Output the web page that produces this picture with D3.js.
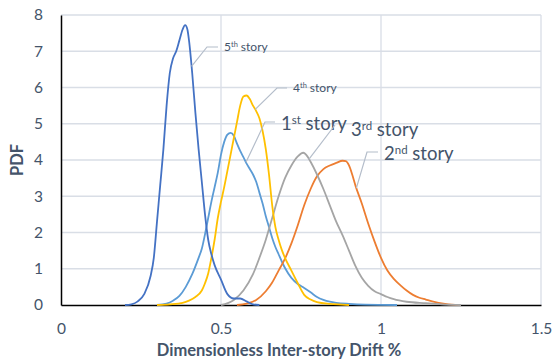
<!DOCTYPE html>
<html>
<head>
<meta charset="utf-8">
<script src="https://cdn.jsdelivr.net/npm/d3@7"></script>
<style>
  html, body { margin: 0; padding: 0; background: #fff; }
  svg { display: block; font-family: Lato, "Open Sans", sans-serif; }
</style>
</head>
<body>
<svg id="chart" width="552" height="359"></svg>
<script>
// Probability density of inter-story drift, one curve per story: [drift %, PDF]
const story1 = [[0.30,0],[0.33,0.04],[0.35,0.12],[0.37,0.25],[0.39,0.5],[0.41,0.85],[0.43,1.3],[0.44,1.55],[0.45,1.95],[0.46,2.4],[0.47,2.85],[0.48,3.25],[0.49,3.65],[0.50,4.15],[0.51,4.5],[0.52,4.7],[0.53,4.75],[0.54,4.67],[0.55,4.45],[0.56,4.25],[0.57,4.08],[0.58,3.9],[0.59,3.75],[0.60,3.6],[0.61,3.4],[0.62,3.1],[0.63,2.8],[0.64,2.45],[0.65,2.15],[0.66,1.85],[0.67,1.6],[0.68,1.4],[0.69,1.2],[0.70,1.02],[0.72,0.75],[0.74,0.58],[0.76,0.47],[0.78,0.35],[0.80,0.22],[0.82,0.14],[0.84,0.09],[0.86,0.06],[0.90,0.03],[0.95,0.01],[1.05,0]];
const story2 = [[0.55,0],[0.58,0.04],[0.61,0.14],[0.64,0.38],[0.66,0.62],[0.68,0.95],[0.70,1.28],[0.72,1.7],[0.74,2.2],[0.76,2.75],[0.78,3.2],[0.80,3.55],[0.82,3.75],[0.84,3.85],[0.86,3.92],[0.88,3.98],[0.89,3.97],[0.90,3.85],[0.91,3.6],[0.92,3.3],[0.94,2.8],[0.96,2.25],[0.98,1.75],[1.00,1.3],[1.02,0.95],[1.04,0.72],[1.06,0.55],[1.08,0.4],[1.10,0.28],[1.12,0.2],[1.14,0.15],[1.16,0.1],[1.18,0.06],[1.20,0.03],[1.22,0.01],[1.25,0]];
const story3 = [[0.50,0],[0.54,0.14],[0.57,0.4],[0.60,0.85],[0.62,1.3],[0.64,1.8],[0.66,2.4],[0.68,3.0],[0.70,3.5],[0.72,3.85],[0.74,4.1],[0.757,4.2],[0.77,4.1],[0.78,3.95],[0.80,3.6],[0.82,3.2],[0.84,2.75],[0.86,2.3],[0.88,1.92],[0.90,1.5],[0.92,1.08],[0.94,0.75],[0.96,0.53],[0.98,0.38],[1.00,0.3],[1.02,0.22],[1.04,0.16],[1.08,0.09],[1.14,0.05],[1.19,0.02],[1.25,0]];
const story4 = [[0.30,0],[0.34,0.02],[0.38,0.06],[0.40,0.12],[0.42,0.22],[0.44,0.4],[0.45,0.6],[0.46,0.87],[0.47,1.3],[0.48,1.8],[0.49,2.4],[0.50,2.85],[0.51,3.25],[0.52,3.7],[0.53,4.15],[0.54,4.6],[0.55,5.05],[0.56,5.5],[0.57,5.75],[0.58,5.78],[0.59,5.68],[0.60,5.5],[0.61,5.35],[0.62,5.15],[0.63,4.8],[0.64,4.3],[0.65,3.6],[0.66,2.75],[0.67,2.15],[0.68,1.8],[0.69,1.52],[0.70,1.3],[0.72,0.95],[0.74,0.6],[0.76,0.28],[0.78,0.15],[0.80,0.08],[0.84,0.03],[0.88,0.01],[0.90,0]];
const story5 = [[0.20,0],[0.22,0.02],[0.24,0.1],[0.26,0.3],[0.28,0.8],[0.29,1.3],[0.30,2.3],[0.31,3.3],[0.32,4.3],[0.33,5.5],[0.34,6.4],[0.35,6.8],[0.36,7.0],[0.37,7.3],[0.38,7.6],[0.388,7.72],[0.395,7.6],[0.40,7.3],[0.41,6.4],[0.42,5.3],[0.43,4.3],[0.44,3.4],[0.45,2.5],[0.46,1.8],[0.47,1.4],[0.48,1.1],[0.50,0.7],[0.52,0.3],[0.54,0.18],[0.56,0.18],[0.58,0.1],[0.60,0.02],[0.62,0]];

const xTicks = [0, 0.5, 1, 1.5];
const yTicks = [0, 1, 2, 3, 4, 5, 6, 7, 8];

// Series list with callout label parts: [base, superscript, rest]
const series = [
  { name: "1st story", data: story1, color: "#5B9BD5", label: ["1", "st", " story"] },
  { name: "2nd story", data: story2, color: "#ED7D31", label: ["2", "nd", " story"] },
  { name: "3rd story", data: story3, color: "#A5A5A5", label: ["3", "rd", " story"] },
  { name: "4th story", data: story4, color: "#FFC000", label: ["4", "th", " story"] },
  { name: "5th story", data: story5, color: "#4472C4", label: ["5", "th", " story"] }
];

// Callout placement: anchor drift on the curve, elbow and text offsets in px
const callouts = {
  "5th story": { at: 0.408, elbow: [207, 47], end: [218, 47], text: [224, 51], size: 12 },
  "4th story": { at: 0.607, elbow: [277, 88], end: [287, 88], text: [293, 92], size: 12 },
  "1st story": { at: 0.578, elbow: [265, 122], end: [275, 122], text: [281, 130], size: 18.5 },
  "3rd story": { at: 0.775, elbow: [335, 125], end: [335, 125], text: [351, 136], size: 18.5 },
  "2nd story": { at: 0.923, elbow: [367, 152], end: [378, 152], text: [384, 160], size: 18.5 }
};

const svg = d3.select("#chart");
const margin = { left: 61, right: 11, top: 15, bottom: 54 };
const W = 552, H = 359;

const x = d3.scaleLinear().domain([0, 1.5]).range([margin.left, W - margin.right]);
const y = d3.scaleLinear().domain([0, 8]).range([H - margin.bottom, margin.top]);

const textColor = "#44546A";
const gridColor = "#D9DEE6";

// Horizontal gridlines
svg.append("g")
  .selectAll("line")
  .data(yTicks.filter(d => d > 0))
  .join("line")
  .attr("x1", x(0)).attr("x2", x(1.5))
  .attr("y1", d => y(d)).attr("y2", d => y(d))
  .attr("stroke", gridColor).attr("stroke-width", 1.3);

// Vertical gridlines
svg.append("g")
  .selectAll("line")
  .data(xTicks.filter(d => d > 0))
  .join("line")
  .attr("x1", d => x(d)).attr("x2", d => x(d))
  .attr("y1", y(0)).attr("y2", y(8))
  .attr("stroke", gridColor).attr("stroke-width", 1.3);

// Y axis
const yAxis = svg.append("g")
  .attr("transform", `translate(${x(0)},0)`)
  .call(d3.axisLeft(y).tickValues(yTicks).tickSize(0).tickPadding(18).tickFormat(d3.format("d")));
yAxis.select(".domain").attr("stroke", "#000").attr("stroke-width", 1.5);
yAxis.selectAll("text").attr("fill", textColor).style("font-size", "15.5px").style("font-family", "Lato, sans-serif");

// X axis
const xAxis = svg.append("g")
  .attr("transform", `translate(0,${y(0)})`)
  .call(d3.axisBottom(x).tickValues(xTicks).tickSize(0).tickPadding(18).tickFormat(d => d));
xAxis.select(".domain").attr("stroke", "#000").attr("stroke-width", 1.5);
xAxis.selectAll("text").attr("fill", textColor).style("font-size", "15.5px").style("font-family", "Lato, sans-serif");

// Density curves
const line = d3.line()
  .x(d => x(d[0]))
  .y(d => y(d[1]))
  .curve(d3.curveMonotoneX);

svg.append("g")
  .selectAll("path")
  .data(series)
  .join("path")
  .attr("d", d => line(d.data))
  .attr("fill", "none")
  .attr("stroke", d => d.color)
  .attr("stroke-width", 1.8)
  .attr("stroke-linejoin", "round");

// Callouts with leader lines
function valueAt(data, xv) {
  for (let i = 1; i < data.length; i++) {
    if (data[i][0] >= xv) {
      const [x0, y0] = data[i - 1], [x1, y1] = data[i];
      return y0 + (y1 - y0) * (xv - x0) / (x1 - x0);
    }
  }
  return 0;
}

const labelG = svg.append("g");
series.forEach(s => {
  const c = callouts[s.name];
  const ax = x(c.at), ay = y(valueAt(s.data, c.at));
  labelG.append("polyline")
    .attr("points", [[ax, ay], c.elbow, c.end].map(p => p.join(",")).join(" "))
    .attr("fill", "none")
    .attr("stroke", "#B4BDCA")
    .attr("stroke-width", 1.2);
  const t = labelG.append("text")
    .attr("x", c.text[0]).attr("y", c.text[1])
    .attr("fill", textColor)
    .style("font-size", c.size + "px");
  t.append("tspan").text(s.label[0]);
  t.append("tspan").text(s.label[1])
    .attr("dy", -c.size * 0.33)
    .style("font-size", (c.size * 0.62) + "px");
  t.append("tspan").text(s.label[2])
    .attr("dy", c.size * 0.33);
});

// Axis titles
svg.append("text")
  .attr("x", 279).attr("y", 356)
  .attr("text-anchor", "middle")
  .attr("fill", textColor)
  .style("font-size", "16.5px").style("font-weight", "bold")
  .text("Dimensionless Inter-story Drift %");

svg.append("text")
  .attr("transform", "translate(23,160) rotate(-90)")
  .attr("text-anchor", "middle")
  .attr("fill", textColor)
  .style("font-size", "16.5px").style("font-weight", "bold")
  .text("PDF");
</script>
</body>
</html>
